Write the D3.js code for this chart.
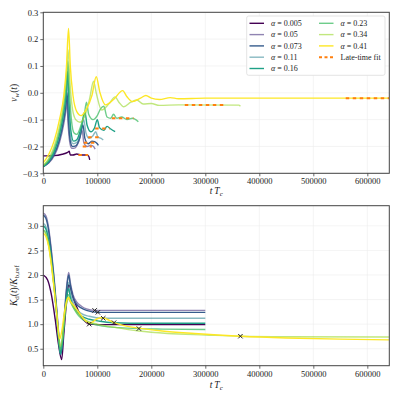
<!DOCTYPE html>
<html>
<head>
<meta charset="utf-8">
<script src="https://cdn.jsdelivr.net/npm/d3@7"></script>
<style>
body { margin: 0; background: #fff; }
text { font-family: "Liberation Serif", "DejaVu Serif", serif; fill: #222; }
</style>
</head>
<body>
<svg></svg>
<script>
// alpha values of the runs
var alphas = ["0.005", "0.05", "0.073", "0.11", "0.16", "0.23", "0.34", "0.41"];
var colors = ["#440154", "#46327e", "#365c8d", "#277f8e", "#1fa187", "#4ac16d", "#a0da39", "#fde725"];
var opac = [1, 0.6, 1, 0.55, 1, 0.8, 0.65, 1];

// wall velocity v_w(t), [t, v]
var vw005 = [[0,-0.235],[20000,-0.234],[35000,-0.229],[45000,-0.222],[48000,-0.218],[50000,-0.232],[55000,-0.232],[62000,-0.228],[70000,-0.232],[80000,-0.232],[84000,-0.236],[86000,-0.25]];
var vw05 = [[0,-0.275],[10000,-0.262],[20000,-0.235],[30000,-0.185],[38000,-0.115],[41500,-0.07],[43500,-0.03],[46000,-0.12],[49500,-0.19],[53000,-0.207],[59000,-0.205],[66000,-0.18],[72000,-0.14],[75000,-0.185],[81000,-0.2],[88000,-0.195],[93000,-0.2],[96000,-0.21]];
var vw073 = [[0,-0.275],[10000,-0.26],[20000,-0.23],[30000,-0.175],[38000,-0.1],[42000,-0.045],[44000,0.0],[46500,-0.1],[50000,-0.18],[54000,-0.2],[60000,-0.198],[68000,-0.165],[73500,-0.12],[77000,-0.17],[83000,-0.19],[90000,-0.18],[95000,-0.182],[100000,-0.19],[102000,-0.196]];
var vw11 = [[0,-0.275],[10000,-0.258],[20000,-0.225],[30000,-0.165],[38000,-0.085],[42000,-0.02],[44500,0.04],[47000,-0.07],[50500,-0.16],[55000,-0.19],[62000,-0.185],[70000,-0.145],[75000,-0.1],[79000,-0.15],[85000,-0.17],[92000,-0.16],[97000,-0.145],[101000,-0.165],[107000,-0.17],[111000,-0.176]];
var vw16 = [[0,-0.275],[10000,-0.255],[20000,-0.22],[30000,-0.155],[38000,-0.07],[42500,0.0],[45000,0.08],[47500,-0.03],[51000,-0.14],[56000,-0.18],[62000,-0.175],[70000,-0.13],[77000,-0.07],[81000,-0.12],[88000,-0.145],[95000,-0.13],[100000,-0.1],[104000,-0.13],[112000,-0.14],[118000,-0.125],[125000,-0.135],[133000,-0.145]];
var vw23 = [[0,-0.272],[10000,-0.25],[20000,-0.21],[30000,-0.14],[38000,-0.05],[43000,0.04],[45500,0.12],[48000,0.02],[52000,-0.1],[57000,-0.15],[62000,-0.155],[70000,-0.12],[76000,-0.08],[80000,-0.035],[84000,-0.08],[92000,-0.1],[100000,-0.085],[106000,-0.06],[112000,-0.05],[118000,-0.09],[125000,-0.095],[130000,-0.08],[136000,-0.095],[145000,-0.09],[155000,-0.1],[165000,-0.095],[176000,-0.108]];
var vw34 = [[0,-0.27],[10000,-0.245],[20000,-0.2],[30000,-0.125],[38000,-0.03],[43000,0.07],[46000,0.16],[49000,0.05],[54000,-0.06],[60000,-0.1],[68000,-0.11],[78000,-0.08],[86000,-0.02],[93000,0.043],[98000,0.0],[108000,-0.064],[122000,-0.04],[133000,-0.015],[140000,-0.035],[149000,-0.052],[162000,-0.035],[173000,-0.027],[185000,-0.042],[200000,-0.04],[215000,-0.047],[250000,-0.045],[362000,-0.046],[365000,-0.05]];
var vw41 = [[0,-0.26],[10000,-0.23],[20000,-0.18],[30000,-0.1],[38000,-0.01],[43000,0.1],[46700,0.24],[50000,0.1],[55000,-0.01],[62000,-0.07],[70000,-0.085],[80000,-0.06],[90000,-0.01],[98000,0.06],[105000,0.0],[115000,-0.045],[130000,-0.025],[147000,0.008],[155000,-0.015],[165000,-0.033],[180000,-0.02],[190000,-0.01],[200000,-0.02],[215000,-0.025],[235000,-0.018],[250000,-0.022],[300000,-0.02],[640000,-0.02]];
var vwRuns = [vw005, vw05, vw073, vw11, vw16, vw23, vw34, vw41];

// late-time fits
var fitStart = [65000, 73000, 75000, 83000, 96000, 127000, 262000, 560000];
var fitEnd = [83000, 90000, 95000, 105000, 123000, 167000, 336000, 640000];
var fitLevel = [-0.232, -0.2, -0.186, -0.166, -0.133, -0.095, -0.045, -0.02];

// K_d(t)/K_b,ref, [t, K]
var kd005 = [[0,2.0],[8000,1.9],[15000,1.6],[22000,1.1],[28000,0.6],[34000,0.28],[38000,0.8],[43000,1.45],[47000,1.8],[50000,1.75],[55000,1.55],[62000,1.35],[70000,1.15],[78000,1.05],[85000,1.0],[100000,0.99],[300000,0.99]];
var kd05 = [[0,3.26],[5000,3.2],[10000,2.95],[15000,2.5],[20000,1.95],[25000,1.3],[29000,0.75],[32000,0.42],[35000,0.6],[40000,1.35],[44000,1.85],[47000,2.05],[50000,1.85],[55000,1.6],[62000,1.45],[70000,1.37],[80000,1.31],[95000,1.28],[120000,1.28],[300000,1.28]];
var kd073 = [[0,3.22],[5000,3.15],[10000,2.9],[15000,2.45],[20000,1.9],[25000,1.25],[29000,0.7],[32000,0.38],[35000,0.55],[40000,1.3],[44000,1.8],[47000,2.0],[50000,1.8],[55000,1.55],[62000,1.4],[70000,1.33],[80000,1.28],[101000,1.24],[130000,1.24],[300000,1.24]];
var kd11 = [[0,3.05],[5000,2.98],[10000,2.75],[15000,2.35],[20000,1.82],[25000,1.2],[29000,0.65],[32000,0.38],[35000,0.55],[40000,1.25],[44000,1.7],[47000,1.85],[50000,1.65],[55000,1.45],[62000,1.3],[70000,1.22],[85000,1.16],[111000,1.12],[140000,1.12],[300000,1.12]];
var kd16 = [[0,3.0],[5000,2.93],[10000,2.7],[15000,2.3],[20000,1.78],[25000,1.18],[29000,0.62],[31500,0.4],[35000,0.6],[40000,1.2],[44000,1.6],[47000,1.72],[50000,1.55],[55000,1.38],[62000,1.25],[70000,1.17],[85000,1.1],[105000,1.06],[131000,1.03],[160000,1.02],[300000,1.02]];
var kd23 = [[0,2.92],[5000,2.85],[10000,2.62],[15000,2.25],[20000,1.75],[25000,1.18],[29000,0.68],[31500,0.48],[35000,0.65],[40000,1.2],[44000,1.52],[47000,1.6],[50000,1.48],[55000,1.35],[62000,1.22],[70000,1.12],[85000,1.03],[110000,0.96],[140000,0.93],[177000,0.91],[220000,0.9],[300000,0.89]];
var kd34 = [[0,2.9],[5000,2.83],[10000,2.6],[15000,2.22],[20000,1.75],[25000,1.2],[29000,0.72],[31500,0.55],[35000,0.72],[40000,1.2],[44000,1.45],[47000,1.52],[50000,1.45],[55000,1.35],[62000,1.25],[70000,1.15],[80000,1.07],[100000,1.0],[130000,0.94],[177000,0.86],[230000,0.81],[300000,0.78],[365000,0.755],[450000,0.745],[640000,0.74]];
var kd41 = [[0,2.85],[5000,2.78],[10000,2.58],[15000,2.2],[20000,1.72],[25000,1.2],[28500,0.8],[30500,0.7],[34000,0.85],[40000,1.3],[44000,1.5],[46500,1.55],[50000,1.47],[55000,1.4],[62000,1.3],[70000,1.18],[78000,1.07],[85000,1.02],[92000,1.05],[100000,1.11],[108000,1.13],[118000,1.1],[131000,1.03],[150000,0.97],[177000,0.92],[220000,0.86],[280000,0.81],[365000,0.755],[450000,0.72],[550000,0.695],[640000,0.68]];
var kdRuns = [kd005, kd05, kd073, kd11, kd16, kd23, kd34, kd41];

// end-of-run markers
var markT = [85000, 95000, 101000, 111000, 131000, 177000, 365000];
var markK = [1.0, 1.28, 1.24, 1.12, 1.03, 0.91, 0.755];

var xTicks = [0, 100000, 200000, 300000, 400000, 500000, 600000];
var vwTicks = [-0.3, -0.2, -0.1, 0.0, 0.1, 0.2, 0.3];
var kdTicks = [0.5, 1.0, 1.5, 2.0, 2.5, 3.0];

var svgWidth = 399, svgHeight = 399;
var left = 43.3, right = 389.3;

var svg = d3.select('svg')
    .attr('width', svgWidth)
    .attr('height', svgHeight);

svg.append('rect')
    .attr('width', '100%')
    .attr('height', '100%')
    .attr('fill', 'white');

var xScale = d3.scaleLinear().domain([0, 640700]).range([left, right]);
var yTop = d3.scaleLinear().domain([-0.3, 0.3]).range([173.3, 12.3]);
var yBot = d3.scaleLinear().domain([0.155, 3.41]).range([365.7, 205.7]);

var fmtV = function(d) { return d3.format('.1f')(d).replace('-', '\u2212'); };

function panel(yScale, yTicks, yFmt) {
    var top = yScale.range()[1], bot = yScale.range()[0];
    var g = svg.append('g');
    // grid
    g.selectAll('.gx').data(xTicks).enter().append('line')
        .attr('x1', d => xScale(d)).attr('x2', d => xScale(d))
        .attr('y1', top).attr('y2', bot)
        .style('stroke', '#ececec').style('stroke-width', 0.6);
    g.selectAll('.gy').data(yTicks).enter().append('line')
        .attr('x1', left).attr('x2', right)
        .attr('y1', d => yScale(d)).attr('y2', d => yScale(d))
        .style('stroke', '#ececec').style('stroke-width', 0.6);

    var xa = svg.append('g')
        .attr('transform', 'translate(0,' + bot + ')')
        .call(d3.axisBottom(xScale).tickValues(xTicks).tickSize(3).tickPadding(2).tickFormat(d3.format('d')));
    var ya = svg.append('g')
        .attr('transform', 'translate(' + left + ',0)')
        .call(d3.axisLeft(yScale).tickValues(yTicks).tickSize(3).tickPadding(2).tickFormat(yFmt));
    [xa, ya].forEach(function(a) {
        a.select('.domain').remove();
        a.selectAll('line').style('stroke', '#444').style('stroke-width', 0.8);
        a.selectAll('text').style('font-family', '"Liberation Serif", serif').style('font-size', '8.5px').style('fill', '#222');
    });
    return g;
}

function frame(yScale) {
    var top = yScale.range()[1], bot = yScale.range()[0];
    svg.append('rect')
        .attr('x', left).attr('y', top)
        .attr('width', right - left).attr('height', bot - top)
        .attr('fill', 'none')
        .style('stroke', '#444').style('stroke-width', 1);
}

panel(yTop, vwTicks, fmtV);
panel(yBot, kdTicks, d3.format('.1f'));

var lineTop = d3.line().x(d => xScale(d[0])).y(d => yTop(d[1])).curve(d3.curveMonotoneX);
var lineBot = d3.line().x(d => xScale(d[0])).y(d => yBot(d[1])).curve(d3.curveMonotoneX);

svg.append('g').selectAll('path').data(vwRuns).enter().append('path')
    .attr('d', lineTop)
    .attr('fill', 'none')
    .style('stroke', (d, i) => colors[i])
    .style('stroke-opacity', (d, i) => opac[i])
    .style('stroke-width', 1.4);

svg.append('g').selectAll('path').data(fitLevel).enter().append('path')
    .attr('d', (d, i) => lineTop([[fitStart[i], d], [fitEnd[i], d]]))
    .attr('fill', 'none')
    .style('stroke', '#ff7f0e')
    .style('stroke-width', 2)
    .style('stroke-dasharray', '3.5,3.5');

svg.append('g').selectAll('path').data(kdRuns).enter().append('path')
    .attr('d', lineBot)
    .attr('fill', 'none')
    .style('stroke', (d, i) => colors[i])
    .style('stroke-opacity', (d, i) => opac[i])
    .style('stroke-width', 1.4);

svg.append('g').selectAll('path').data(markT).enter().append('path')
    .attr('transform', (d, i) => 'translate(' + xScale(d) + ',' + yBot(markK[i]) + ')')
    .attr('d', 'M-2.2,-2.2L2.2,2.2M-2.2,2.2L2.2,-2.2')
    .style('stroke', '#222')
    .style('stroke-width', 1);

frame(yTop);
frame(yBot);

// axis labels
function xLabel(y) {
    var t = svg.append('text').attr('x', 216.3).attr('y', y)
        .attr('text-anchor', 'middle').style('font-size', '9.5px');
    t.append('tspan').style('font-style', 'italic').text('t');
    t.append('tspan').text('\u2009');
    t.append('tspan').style('font-style', 'italic').text('T');
    t.append('tspan').style('font-style', 'italic').style('font-size', '7px').attr('dy', 2).text('c');
}
xLabel(194);
xLabel(388);

var yl1 = svg.append('text')
    .attr('transform', 'translate(17,92.8) rotate(-90)')
    .attr('text-anchor', 'middle').style('font-size', '9.5px');
yl1.append('tspan').style('font-style', 'italic').text('v');
yl1.append('tspan').style('font-style', 'italic').style('font-size', '7px').attr('dy', 2).text('w');
yl1.append('tspan').attr('dy', -2).text('(');
yl1.append('tspan').style('font-style', 'italic').text('t');
yl1.append('tspan').text(')');

var yl2 = svg.append('text')
    .attr('transform', 'translate(17,285.7) rotate(-90)')
    .attr('text-anchor', 'middle').style('font-size', '9.5px');
yl2.append('tspan').style('font-style', 'italic').text('K');
yl2.append('tspan').style('font-size', '7px').attr('dy', 2).text('d');
yl2.append('tspan').attr('dy', -2).text('(');
yl2.append('tspan').style('font-style', 'italic').text('t');
yl2.append('tspan').text(')/');
yl2.append('tspan').style('font-style', 'italic').text('K');
yl2.append('tspan').style('font-size', '7px').attr('dy', 2).text('b,ref');

// legend
var lg = svg.append('g');
lg.append('rect')
    .attr('x', 246.7).attr('y', 16)
    .attr('width', 138.3).attr('height', 59.3)
    .attr('rx', 2)
    .attr('fill', 'white')
    .style('stroke', '#dcdcdc').style('stroke-width', 0.8);

var rowY = [23.3, 34.6, 45.9, 57.2, 68.5];
alphas.forEach(function(a, i) {
    var col = i < 5 ? 0 : 1;
    var row = i < 5 ? i : i - 5;
    var lx = col ? 319 : 249.5;
    lg.append('line')
        .attr('x1', lx).attr('x2', lx + 14.5)
        .attr('y1', rowY[row]).attr('y2', rowY[row])
        .style('stroke', colors[i]).style('stroke-opacity', opac[i]).style('stroke-width', 1.4);
    var t = lg.append('text').attr('x', lx + 21.5).attr('y', rowY[row] + 2.8).style('font-size', '8px');
    t.append('tspan').style('font-style', 'italic').text('\u03b1');
    t.append('tspan').text(' = ' + a);
});
lg.append('line')
    .attr('x1', 319).attr('x2', 333.5)
    .attr('y1', rowY[3]).attr('y2', rowY[3])
    .style('stroke', '#ff7f0e').style('stroke-width', 2).style('stroke-dasharray', '3,2.5');
lg.append('text').attr('x', 340.5).attr('y', rowY[3] + 2.8).style('font-size', '8px').text('Late-time fit');
</script>
</body>
</html>
